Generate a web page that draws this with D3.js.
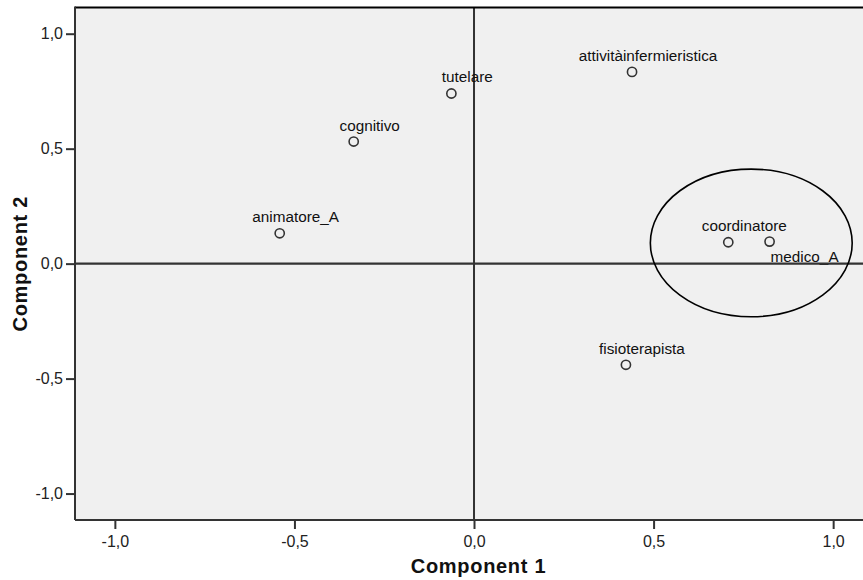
<!DOCTYPE html>
<html><head><meta charset="utf-8">
<script src="https://cdn.jsdelivr.net/npm/d3@7/dist/d3.min.js"></script>
<style>
html,body{margin:0;padding:0;background:#fff;}
svg{display:block;}
</style></head>
<body>
<svg id="chart" width="863" height="580"></svg>
<script>
// ---- data ----
const variables = ["attivitàinfermieristica","tutelare","cognitivo","animatore_A","coordinatore","medico_A","fisioterapista"];
const component1 = [0.440, -0.063, -0.335, -0.541, 0.708, 0.823, 0.423];
const component2 = [0.834, 0.740, 0.531, 0.132, 0.093, 0.096, -0.440];
const tickValues = [-1.0, -0.5, 0.0, 0.5, 1.0];
const xTitle = "Component 1";
const yTitle = "Component 2";
// highlighted group (ellipse) in data units: centre and radii
const groupCentre = [0.772, 0.090];
const groupRadii = [0.281, 0.321];

// ---- layout ----
const plot = {left: 75, top: 7.5, bottom: 520, right: 882};
const svg = d3.select("#chart");
const x = d3.scaleLinear().domain([-1.111, 1.136]).range([plot.left, plot.right]);
const y = d3.scaleLinear().domain([-1.115, 1.114]).range([plot.bottom, plot.top]);
const fmt = v => d3.format(".1f")(v).replace(".", ",").replace("−","-");

svg.append("rect").attr("x", plot.left).attr("y", plot.top)
  .attr("width", plot.right - plot.left).attr("height", plot.bottom - plot.top)
  .attr("fill", "#f0f0f0");

// zero reference lines
svg.append("line").attr("x1", x(0)).attr("x2", x(0)).attr("y1", plot.top).attr("y2", plot.bottom)
  .attr("stroke", "#333").attr("stroke-width", 2);

// frame
svg.append("line").attr("x1", plot.left).attr("x2", plot.right).attr("y1", plot.top).attr("y2", plot.top)
  .attr("stroke", "#000").attr("stroke-width", 2);

// axes
const axFont = "'Liberation Sans', Arial, sans-serif";
const xAxis = svg.append("g").attr("transform", `translate(0,${plot.bottom})`)
  .call(d3.axisBottom(x).tickValues(tickValues).tickFormat(fmt).tickSize(9).tickPadding(7));
const yAxis = svg.append("g").attr("transform", `translate(${plot.left},0)`)
  .call(d3.axisLeft(y).tickValues(tickValues).tickFormat(fmt).tickSize(9).tickPadding(3));
[xAxis, yAxis].forEach(g => {
  g.select(".domain").attr("stroke", "#333").attr("stroke-width", 2);
  g.selectAll(".tick line").attr("stroke", "#333").attr("stroke-width", 2);
  g.selectAll(".tick text").attr("fill", "#222").style("font-family", axFont).style("font-size", "16px");
});
xAxis.select(".domain").attr("d", `M${plot.left},0H${plot.right}`);
yAxis.select(".domain").attr("d", `M0,${plot.top - 1}V${plot.bottom}`);

// axis titles
svg.append("text").attr("x", (plot.left + plot.right) / 2).attr("y", 573)
  .attr("text-anchor", "middle").style("font-family", axFont).style("font-weight", "bold")
  .style("font-size", "20px").style("letter-spacing", "0.7px").attr("fill", "#111").text(xTitle);
svg.append("text").attr("transform", `translate(27,${(plot.top + plot.bottom) / 2}) rotate(-90)`)
  .attr("text-anchor", "middle").style("font-family", axFont).style("font-weight", "bold")
  .style("font-size", "20px").style("letter-spacing", "0.7px").attr("fill", "#111").text(yTitle);

// points
const pts = variables.map((v, i) => ({name: v, c1: component1[i], c2: component2[i]}));
svg.append("g").selectAll("circle").data(pts).join("circle")
  .attr("cx", d => x(d.c1)).attr("cy", d => y(d.c2)).attr("r", 4.6)
  .attr("fill", "none").attr("stroke", "#333").attr("stroke-width", 1.6);

// labels (offsets in px)
const labelOffset = name => name === "medico_A" ? [35, 20] : [16, -11];
svg.append("g").selectAll("text").data(pts).join("text")
  .attr("x", d => x(d.c1) + labelOffset(d.name)[0])
  .attr("y", d => y(d.c2) + labelOffset(d.name)[1])
  .attr("text-anchor", "middle").style("font-family", axFont).style("font-size", "15.3px")
  .attr("fill", "#111").text(d => d.name);

// horizontal zero line drawn over the labels, like the original
svg.append("line").attr("x1", plot.left).attr("x2", plot.right).attr("y1", y(0)).attr("y2", y(0))
  .attr("stroke", "#333").attr("stroke-width", 2.2);

// ellipse annotation
svg.append("ellipse")
  .attr("cx", x(groupCentre[0])).attr("cy", y(groupCentre[1]))
  .attr("rx", x(groupCentre[0] + groupRadii[0]) - x(groupCentre[0]))
  .attr("ry", y(groupCentre[1] - groupRadii[1]) - y(groupCentre[1]))
  .attr("fill", "none").attr("stroke", "#000").attr("stroke-width", 1.6);
</script>
</body></html>
